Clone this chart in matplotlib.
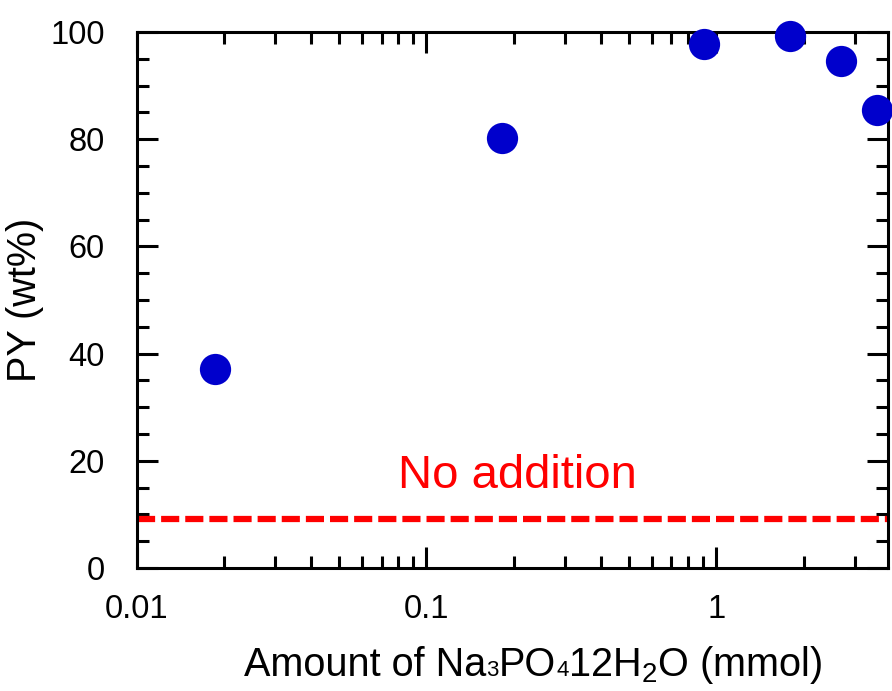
import matplotlib
matplotlib.use("Agg")
import matplotlib.pyplot as plt
from matplotlib.ticker import LogLocator, MultipleLocator, FixedLocator, FixedFormatter, NullFormatter
from matplotlib.offsetbox import TextArea, HPacker, AnchoredOffsetbox

plt.rcParams['font.family'] = ['Liberation Sans', 'DejaVu Sans']
plt.rcParams['mathtext.fontset'] = 'custom'
plt.rcParams['mathtext.rm'] = 'Liberation Sans'
plt.rcParams['mathtext.it'] = 'Liberation Sans'

# Data
amount_mmol = [0.0186, 0.182, 0.904, 1.80, 2.70, 3.59]
py_wt = [37.1, 80.2, 97.8, 99.3, 94.6, 85.4]
no_addition_py = 9.1
xticks = [0.01, 0.1, 1]
xticklabels = ["0.01", "0.1", "1"]
yticks = [0, 20, 40, 60, 80, 100]

W, H = 892, 691
fig = plt.figure(figsize=(W / 100, H / 100), dpi=100)
ax = fig.add_axes([136.5 / W, 1 - 568 / H, (888 - 136.5) / W, (568 - 32) / H])

ax.set_xscale('log')
ax.set_xlim(0.01, 3.91)
ax.set_ylim(0, 100)

ax.axhline(no_addition_py, color='#ff0000', lw=4.5, ls=(0, (2.9, 0.96)), zorder=2)
ax.plot(amount_mmol, py_wt, ls='none', marker='o', ms=22.5, color='#0000cc',
        markeredgewidth=0, zorder=5, clip_on=False)

ax.text(0.2056, 14.9, "No addition", color='#ff0000', fontsize=34,
        ha='center', va='baseline')

ax.xaxis.set_major_locator(FixedLocator(xticks))
ax.xaxis.set_major_formatter(FixedFormatter(xticklabels))
ax.xaxis.set_minor_locator(LogLocator(base=10, subs=range(2, 10)))
ax.xaxis.set_minor_formatter(NullFormatter())
ax.yaxis.set_major_locator(FixedLocator(yticks))
ax.yaxis.set_minor_locator(MultipleLocator(5))

for s in ax.spines.values():
    s.set_linewidth(2.2)
ax.tick_params(which='both', direction='in', top=True, right=True, width=2.2)
ax.tick_params(which='major', length=15, labelsize=23.5)
ax.tick_params(axis='y', which='major', pad=23)
ax.tick_params(axis='x', which='major', pad=18.5)
ax.tick_params(which='minor', length=8.5)

ax.set_ylabel("PY (wt%)", fontsize=28.5, labelpad=4)

big = dict(fontsize=28.5, color='black')
small = dict(fontsize=16, color='black')
parts = [
    TextArea("Amount of Na", textprops=big),
    TextArea("3", textprops=small),
    TextArea("PO", textprops=big),
    TextArea("4", textprops=small),
    TextArea("12H$_\\mathregular{2}$O (mmol)", textprops=big),
]
pack = HPacker(children=parts, align="baseline", pad=0, sep=0)
anch = AnchoredOffsetbox(loc='lower center', child=pack, pad=0, borderpad=0,
                         frameon=False, bbox_to_anchor=(533.5 / W, 5 / H),
                         bbox_transform=fig.transFigure)
fig.add_artist(anch)

fig.savefig("out.png", dpi=100)
